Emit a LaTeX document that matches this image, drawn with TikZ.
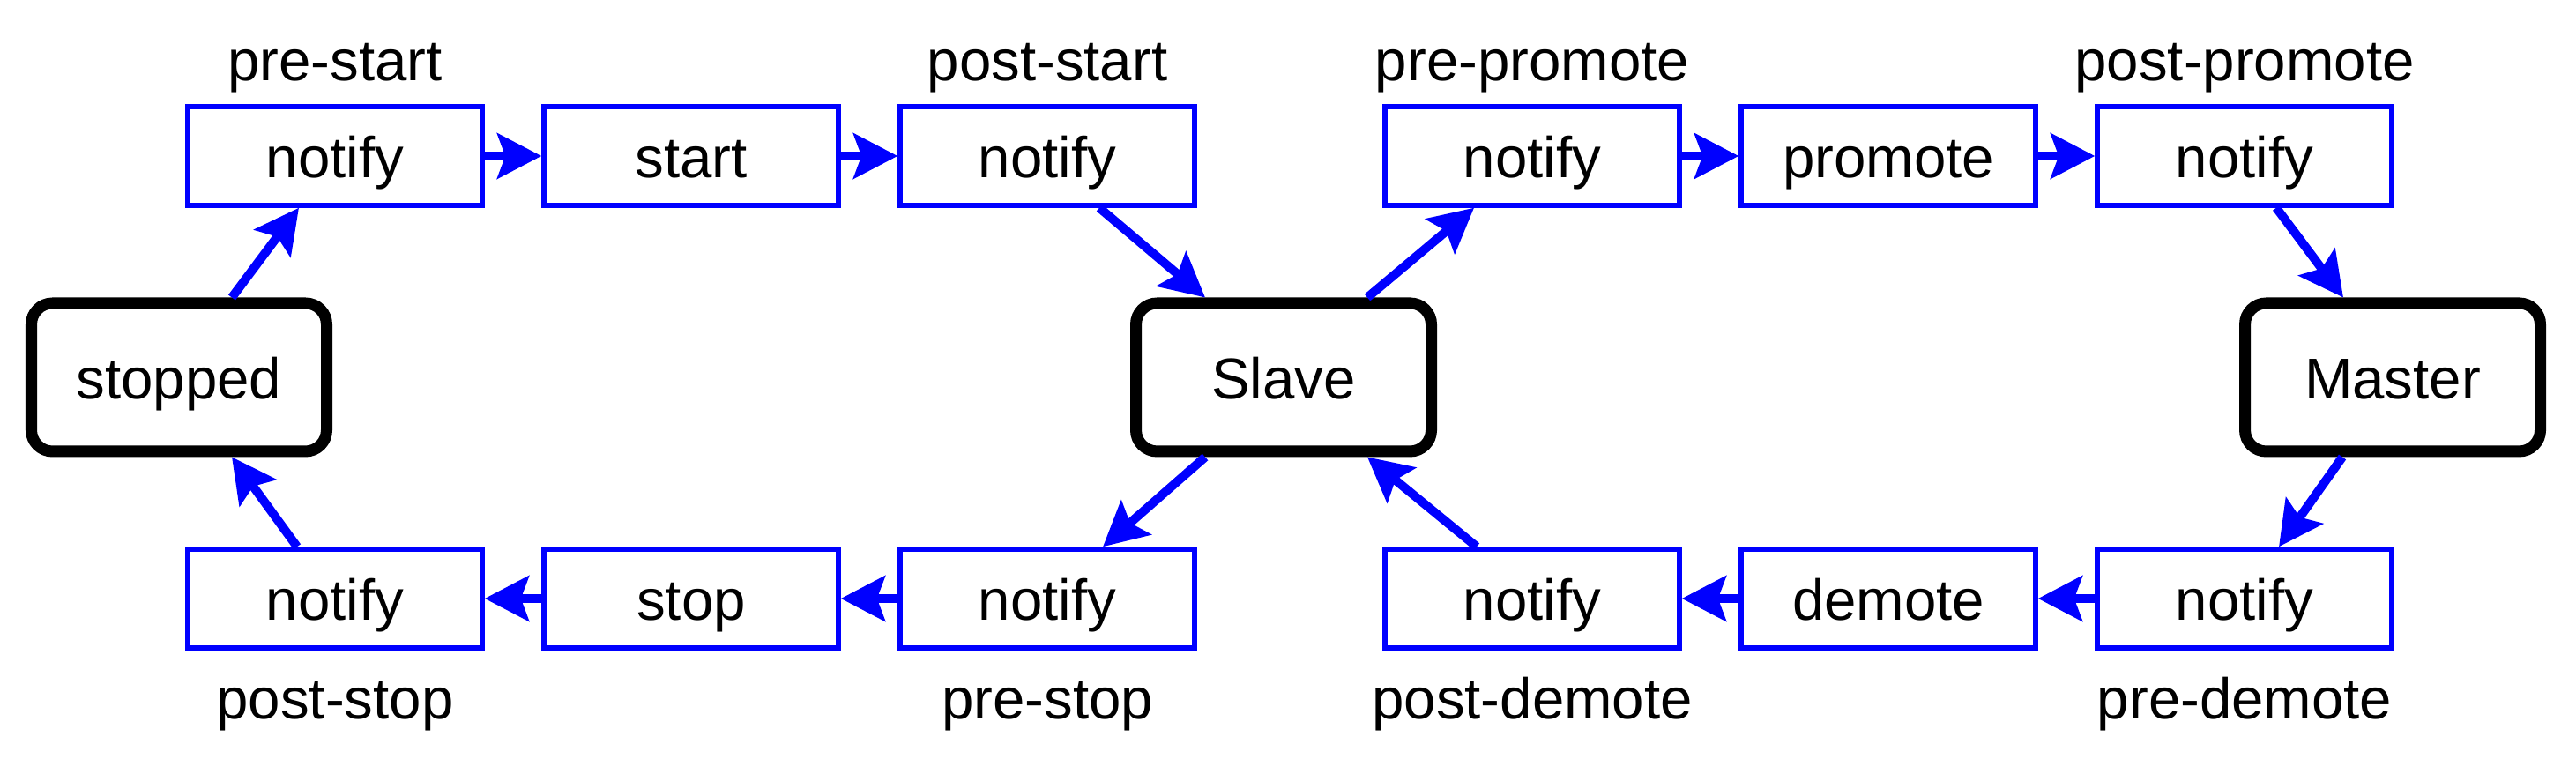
\documentclass[tikz,border=0pt]{standalone}
\usepackage{fontspec}
\setmainfont{Liberation Sans}
\usetikzlibrary{positioning, arrows.meta}
\tikzset{
    hook box/.style = {draw=blue, line width=0.055cm, minimum width=3.34cm, minimum height=1.12cm, inner sep=0pt, text height=0.5cm, text depth=0pt},
    state box/.style = {draw, line width=0.13cm, rounded corners=0.24cm, minimum width=3.35cm, minimum height=1.68cm, inner sep=0pt, text height=0.5cm, text depth=0pt},
    hook arrow/.style = {draw=blue, line width=0.1cm, -{Stealth[length=0.5cm, width=0.51cm, inset=0.09cm]}},
}

\begin{document}
\begin{tikzpicture}[every node/.style=on grid, node distance=4.04cm, font=\fontsize{18.6pt}{22pt}\selectfont]
            \useasboundingbox (0,0) rectangle (29.22,8.61);

            \node[state box] (stopped) at (2.03,4.33) {stopped};
            \node[state box] (slave) at (14.56,4.33) {Slave};
            \node[state box] (master) at (27.14,4.33) {Master};

            \node[hook box] (prestart) at (3.80,6.84) {notify};
            \node[hook box] (start) [right=of prestart] {start};
            \node[hook box] (poststart) [right=of start] {notify};
            \node[hook box] (prepromote) [right=5.50cm of poststart] {notify};
            \node[hook box] (promote) [right=of prepromote] {promote};
            \node[hook box] (postpromote) [right=of promote] {notify};

            \node[hook box] (poststop) at (3.80,1.82) {notify};
            \node[hook box] (stop) [right=of poststop] {stop};
            \node[hook box] (prestop) [right=of stop] {notify};
            \node[hook box] (postdemote) [right=5.50cm of prestop] {notify};
            \node[hook box] (demote) [right=of postdemote] {demote};
            \node[hook box] (predemote) [right=of demote] {notify};

            \node (l-prestart) [above=0.85cm of prestart, anchor=base] {pre-start};
            \node (l-poststart) [above=0.85cm of poststart, anchor=base] {post-start};
            \node (l-prepromote) [above=0.85cm of prepromote, anchor=base] {pre-promote};
            \node (l-postpromote) [above=0.85cm of postpromote, anchor=base] {post-promote};
            \node (l-poststop) [below=1.37cm of poststop, anchor=base] {post-stop};
            \node (l-prestop) [below=1.37cm of prestop, anchor=base] {pre-stop};
            \node (l-postdemote) [below=1.37cm of postdemote, anchor=base] {post-demote};
            \node (l-predemote) [below=1.37cm of predemote, anchor=base] {pre-demote};

            \draw[hook arrow] ([xshift=0.60cm]stopped.north) -- ([xshift=-0.41cm]prestart.south);
            \draw[hook arrow] (prestart) -- (start);
            \draw[hook arrow] (start) -- (poststart);
            \draw[hook arrow] ([xshift=0.59cm]poststart.south) -- ([xshift=-0.89cm]slave.north);
            \draw[hook arrow] ([xshift=0.95cm]slave.north) -- ([xshift=-0.66cm]prepromote.south);
            \draw[hook arrow] (prepromote) -- (promote);
            \draw[hook arrow] (promote) -- (postpromote);
            \draw[hook arrow] ([xshift=0.36cm]postpromote.south) -- ([xshift=-0.56cm]master.north);

            \draw[hook arrow] ([xshift=-0.57cm]master.south) -- ([xshift=0.39cm]predemote.north);
            \draw[hook arrow] (predemote) -- (demote);
            \draw[hook arrow] (demote) -- (postdemote);
            \draw[hook arrow] ([xshift=-0.63cm]postdemote.north) -- ([xshift=0.95cm]slave.south);
            \draw[hook arrow] ([xshift=-0.89cm]slave.south) -- ([xshift=0.63cm]prestop.north);
            \draw[hook arrow] (prestop) -- (stop);
            \draw[hook arrow] (stop) -- (poststop);
            \draw[hook arrow] ([xshift=-0.43cm]poststop.north) -- ([xshift=0.60cm]stopped.south);
        \end{tikzpicture}
\end{document}
